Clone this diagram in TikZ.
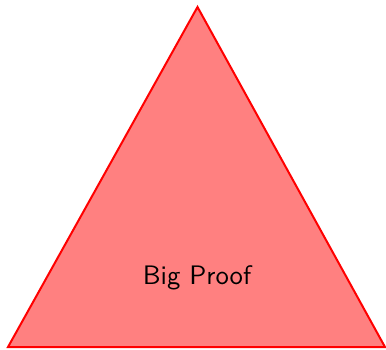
\documentclass[tikz,border=0pt]{standalone}
\usepackage{tikz}
\usepackage{xcolor}
\renewcommand{\familydefault}{\sfdefault}

\begin{document}
\begin{tikzpicture}[x=0.4pt, y=0.4pt]
    \useasboundingbox (0,0) rectangle (386,349);
    \coordinate (apex) at (197.5,342);
    \coordinate (left) at (8,2);
    \coordinate (right) at (385,2);
    \draw[thick, red, fill=red!50] (left) -- (right) -- (apex) -- cycle;
    \node[font=\fontsize{10.7pt}{13pt}\selectfont] (proof) at (197,71) {Big Proof};
\end{tikzpicture}
\end{document}
